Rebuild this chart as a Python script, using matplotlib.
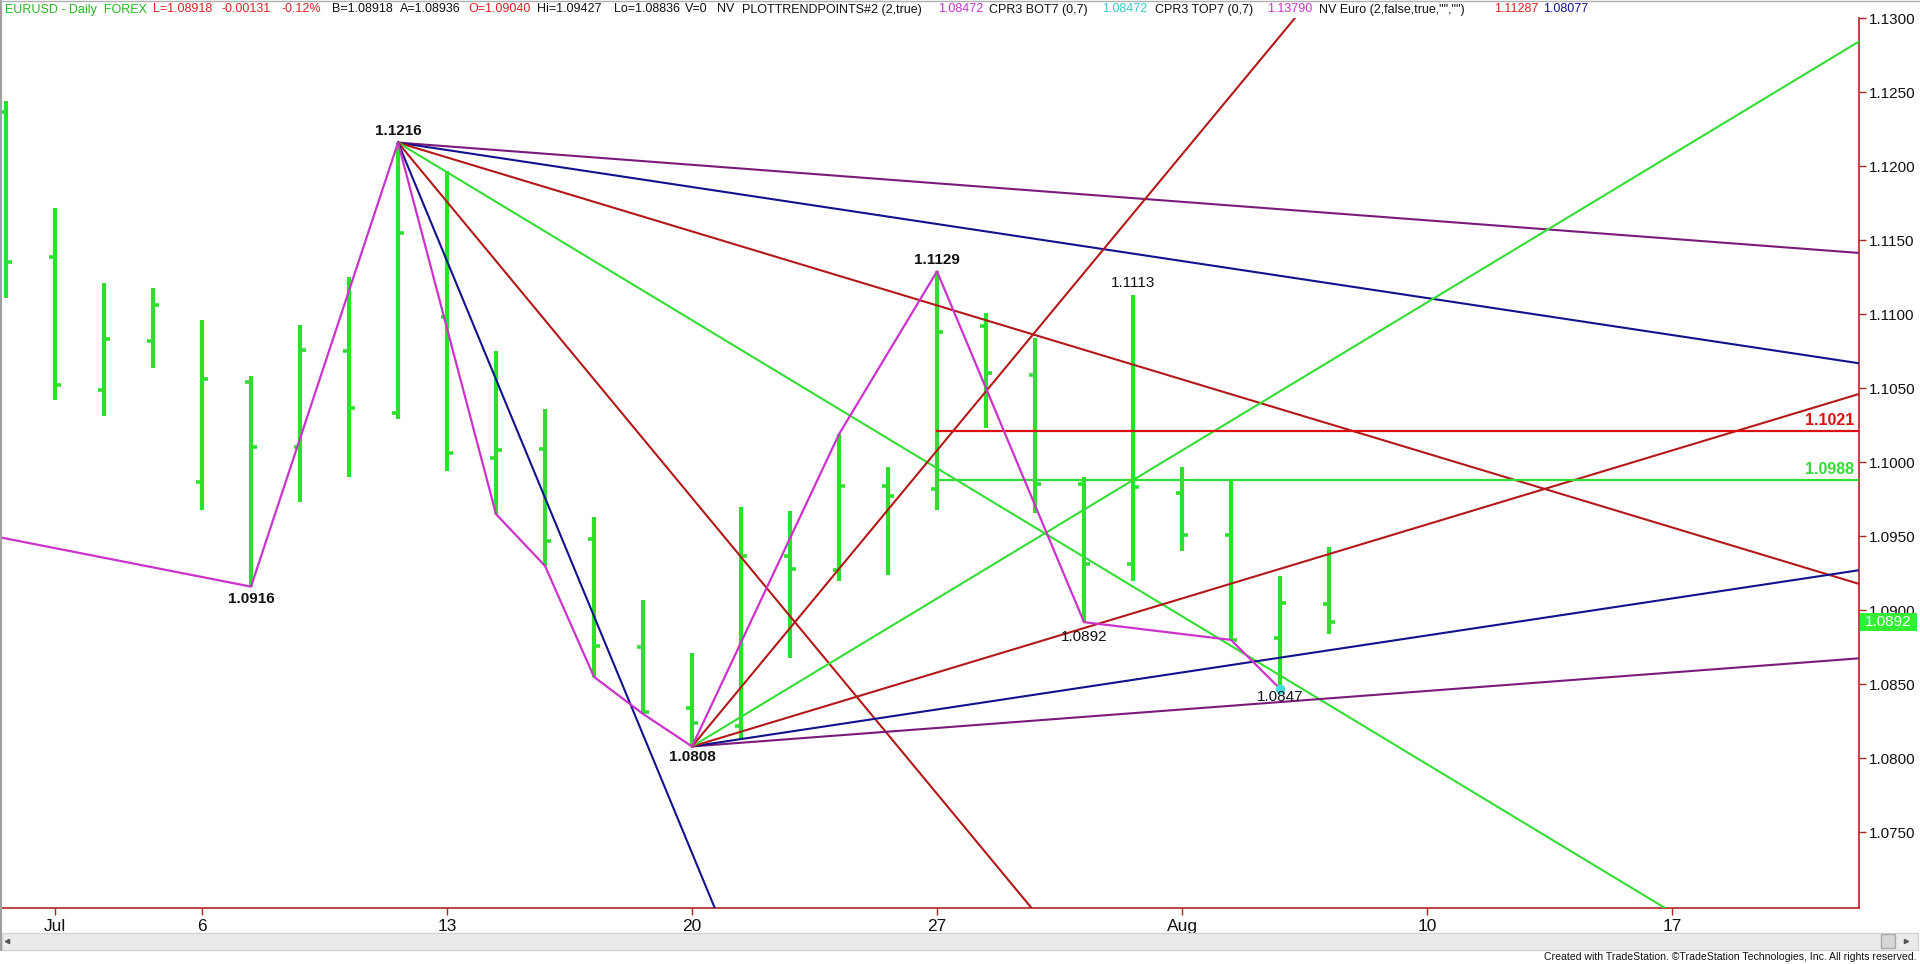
"""
EURUSD daily bar chart with Gann-style fan lines, swing zigzag and pivot labels
(TradeStation look).
"""
import matplotlib
matplotlib.use('Agg')
import matplotlib.pyplot as plt
from matplotlib import font_manager as fm
from matplotlib.patches import Rectangle
from matplotlib.lines import Line2D

# ---- data (bar index 0 = Jul 1, trading days) ----
bar_idx = list(range(-1, 27))
opens = [1.1237, 1.1139, 1.1049, 1.1082, 1.0987, 1.1054, 1.1010, 1.1075, 1.1033, 1.1098,
         1.1003, 1.1009, 1.0948, 1.0875, 1.0834, 1.0822, 1.0937, 1.0927, 1.0984, 1.0982,
         1.1092, 1.1059, 1.0985, 1.0931, 1.0979, 1.0951, 1.0881, 1.0904]
highs = [1.1244, 1.1172, 1.1121, 1.1118, 1.1096, 1.1058, 1.1093, 1.1125, 1.1216, 1.1197,
         1.1075, 1.1036, 1.0963, 1.0907, 1.0871, 1.0970, 1.0967, 1.1019, 1.0997, 1.1129,
         1.1101, 1.1084, 1.0990, 1.1113, 1.0997, 1.0989, 1.0923, 1.0943]
lows = [1.1111, 1.1042, 1.1031, 1.1064, 1.0968, 1.0916, 1.0973, 1.0990, 1.1029, 1.0994,
        1.0965, 1.0930, 1.0855, 1.0830, 1.0808, 1.0813, 1.0868, 1.0920, 1.0924, 1.0968,
        1.1023, 1.0966, 1.0892, 1.0920, 1.0940, 1.0880, 1.0847, 1.0884]
closes = [1.1135, 1.1052, 1.1083, 1.1106, 1.1056, 1.1010, 1.1076, 1.1037, 1.1155, 1.1006,
          1.1008, 1.0947, 1.0876, 1.0831, 1.0824, 1.0937, 1.0928, 1.0984, 1.0977, 1.1088,
          1.1060, 1.0985, 1.0931, 1.0983, 1.0951, 1.0880, 1.0905, 1.0892]

# swing zigzag (magenta)
zig_idx = [-2, 4, 7, 9, 10, 11, 12, 13, 16, 18, 21, 24, 25]
zig_px = [1.0955, 1.0916, 1.1216, 1.0965, 1.0930, 1.0855, 1.0830, 1.0808, 1.1019,
          1.1129, 1.0892, 1.0880, 1.0847]

# fan lines: pivot, slopes (price per bar), colours
fan_high = (7, 1.1216)
fan_high_slopes = [-0.00025, -0.0005, -0.001, -0.002, -0.004, -0.008]
fan_high_colors = ['purple', 'navy', 'red', 'green', 'red', 'navy']
fan_low = (13, 1.0808)
fan_low_slopes = [0.00025, 0.0005, 0.001, 0.002, 0.004]
fan_low_colors = ['purple', 'navy', 'red', 'green', 'red']

# horizontal retracement levels starting at Jul 27
level_start = 18
levels = [1.1021, 1.0988]
level_labels = ['1.1021', '1.0988']

# pivot labels: bar, price, text, bold, vertical offset (pt)
pivots = [(7, 1.1216, '1.1216', True, 8.6),
          (4, 1.0916, '1.0916', True, -9.0),
          (13, 1.0808, '1.0808', True, -7.8),
          (18, 1.1129, '1.1129', True, 8.3),
          (22, 1.1113, '1.1113', False, 8.6),
          (21, 1.0892, '1.0892', False, -10.5),
          (25, 1.0847, '1.0847', False, -6.2)]

xtick_pos = [0, 3, 8, 13, 18, 23, 28, 33]
xtick_labels = ['Jul', '6', '13', '20', '27', 'Aug', '10', '17']
ytick_vals = [1.075, 1.080, 1.085, 1.090, 1.095, 1.100, 1.105, 1.110, 1.115, 1.120, 1.125, 1.130]

header = [('EURUSD - Daily  FOREX', 'hgreen', 4), ('L=1.08918', 'hred', 153),
          ('-0.00131', 'hred', 222), ('-0.12%', 'hred', 281), ('B=1.08918', 'k', 332),
          ('A=1.08936', 'k', 400), ('O=1.09040', 'hred', 468), ('Hi=1.09427', 'k', 537),
          ('Lo=1.08836', 'k', 614), ('V=0', 'k', 685), ('NV', 'k', 717),
          ('PLOTTRENDPOINTS#2 (2,true)', 'k', 742), ('1.08472', 'magenta', 938),
          ('CPR3 BOT7 (0,7)', 'k', 989), ('1.08472', 'cyan', 1102),
          ('CPR3 TOP7 (0,7)', 'k', 1155), ('1.13790', 'magenta', 1267),
          ('NV Euro (2,false,true,"","")', 'k', 1319), ('1.11287', 'hred', 1494),
          ('1.08077', 'navy', 1535)]

# ---- styling ----
C = {'green': '#33dd33', 'red': '#b41818', 'navy': '#12128c', 'purple': '#7a1a7a',
     'magenta': '#cc33cc', 'cyan': '#33cccc', 'hgreen': '#22bb22', 'hred': '#dd2222',
     'k': '#111111'}
bar_green = '#2ee02e'
axis_col = '#b22222'

try:
    fm.findfont(fm.FontProperties(family='Liberation Sans Narrow'), fallback_to_default=False)
    narrow = 'Liberation Sans Narrow'
except ValueError:
    narrow = 'Liberation Sans'
plt.rcParams['font.family'] = ['Liberation Sans', 'DejaVu Sans']

W, H = 1920, 964
fig = plt.figure(figsize=(W / 100, H / 100), dpi=100, facecolor='white')
ax = fig.add_axes([2 / W, 56 / H, 1857 / W, 890 / H])
ax.set_xlim(-1.082, 36.816)
ax.set_ylim(1.069885, 1.13002)

# OHLC bars
tick_w = 0.13
ax.vlines(bar_idx, lows, highs, color=bar_green, lw=3, zorder=2)
ax.hlines(opens, [i - tick_w for i in bar_idx], bar_idx, color=bar_green, lw=2.6, zorder=2)
ax.hlines(closes, bar_idx, [i + tick_w for i in bar_idx], color=bar_green, lw=2.6, zorder=2)

# fan lines
x_end = 40
for (x0, p0), slopes, cols in [(fan_high, fan_high_slopes, fan_high_colors),
                               (fan_low, fan_low_slopes, fan_low_colors)]:
    for s, c in zip(slopes, cols):
        ax.plot([x0, x_end], [p0, p0 + s * (x_end - x0)], color=C[c], lw=1.5, zorder=3)

# horizontal levels
for lv, lab, c in zip(levels, level_labels, ['#dd1111', '#33dd33']):
    ax.plot([level_start, x_end], [lv, lv], color=c, lw=1.6, zorder=3)
    ax.annotate(lab, xy=(1, lv), xycoords=('axes fraction', 'data'), xytext=(-3.6, 2),
                textcoords='offset points', ha='right', va='bottom', color=c,
                fontsize=11.5, fontweight='bold')

# zigzag
ax.plot(zig_idx, zig_px, color=C['magenta'], lw=1.6, zorder=4)
ax.plot([zig_idx[-1]], [zig_px[-1]], 'o', color='#44dddd', ms=6, zorder=5)

# pivot labels
for i, p, t, b, off in pivots:
    ax.annotate(t, xy=(i, p), xytext=(0, off), textcoords='offset points', ha='center',
                va='center', fontsize=11, fontweight='bold' if b else 'normal', color='#111111',
                zorder=6)

# axes
for s in ['top', 'left']:
    ax.spines[s].set_visible(False)
for s in ['right', 'bottom']:
    ax.spines[s].set_color(axis_col)
    ax.spines[s].set_linewidth(1.2)
ax.yaxis.tick_right()
ax.set_yticks(ytick_vals)
ax.set_yticklabels([f'{v:.4f}' for v in ytick_vals])
ax.tick_params(axis='y', color=axis_col, length=5, width=1, pad=2, labelsize=11,
               labelcolor='#111111')
ax.set_xticks(xtick_pos)
ax.set_xticklabels(xtick_labels)
ax.tick_params(axis='x', color=axis_col, length=5, width=1, pad=3, labelsize=12.5,
               labelcolor='#111111')
for lbl in ax.get_xticklabels():
    lbl.set_family(narrow)

fig.canvas.draw()
r = fig.canvas.get_renderer()

# header, laid out left to right so pieces never collide
prev_end = 0
for txt, col, xp in header:
    x = max(xp, prev_end + 5)
    t = fig.text(x / W, 1 - 9.5 / H, txt, color=C[col], fontsize=9.0, va='center', ha='left')
    prev_end = x + t.get_window_extent(r).width

# last price box on the price axis
yd = ax.transData.transform((0, closes[-1]))[1]
fig.patches.append(Rectangle((1860 / W, (yd - 9) / H), 57 / W, 18 / H, transform=fig.transFigure,
                             facecolor='#33ee33', edgecolor='none', zorder=5))
fig.text(1888.5 / W, yd / H, f'{closes[-1]:.4f}', color='white', fontsize=11, ha='center',
         va='center', zorder=6)

# scroll bar strip and window frame
fig.patches.append(Rectangle((2 / W, 14 / H), 1916 / W, 17 / H, transform=fig.transFigure,
                             facecolor='#ebebeb', edgecolor='#d4d4d4', lw=1))
fig.patches.append(Rectangle((1881 / W, 16 / H), 14 / W, 14 / H, transform=fig.transFigure,
                             facecolor='#d6d6d6', edgecolor='#a8a8a8', lw=1))
fig.add_artist(Line2D([7 / W], [23 / H], marker='<', ms=3, color='#555555', transform=fig.transFigure))
fig.add_artist(Line2D([1906 / W], [23 / H], marker='>', ms=3, color='#555555', transform=fig.transFigure))
fig.add_artist(Line2D([1 / W, 1 / W], [14 / H, 1], color='#a0a0a0', lw=1.5, transform=fig.transFigure))
fig.add_artist(Line2D([0, 1], [963.5 / H, 963.5 / H], color='#b0b0b0', lw=1, transform=fig.transFigure))

foot = fig.text(1916 / W, 6.5 / H, 'Created with TradeStation. ©TradeStation Technologies, Inc. All rights reserved.',
                family=[narrow, 'DejaVu Sans'], fontsize=10, ha='right', va='center', color='#111111')
wd = foot.get_window_extent(r).width
foot.set_fontsize(10 * 374 / wd)

fig.savefig('out.png', dpi=100, facecolor='white')
